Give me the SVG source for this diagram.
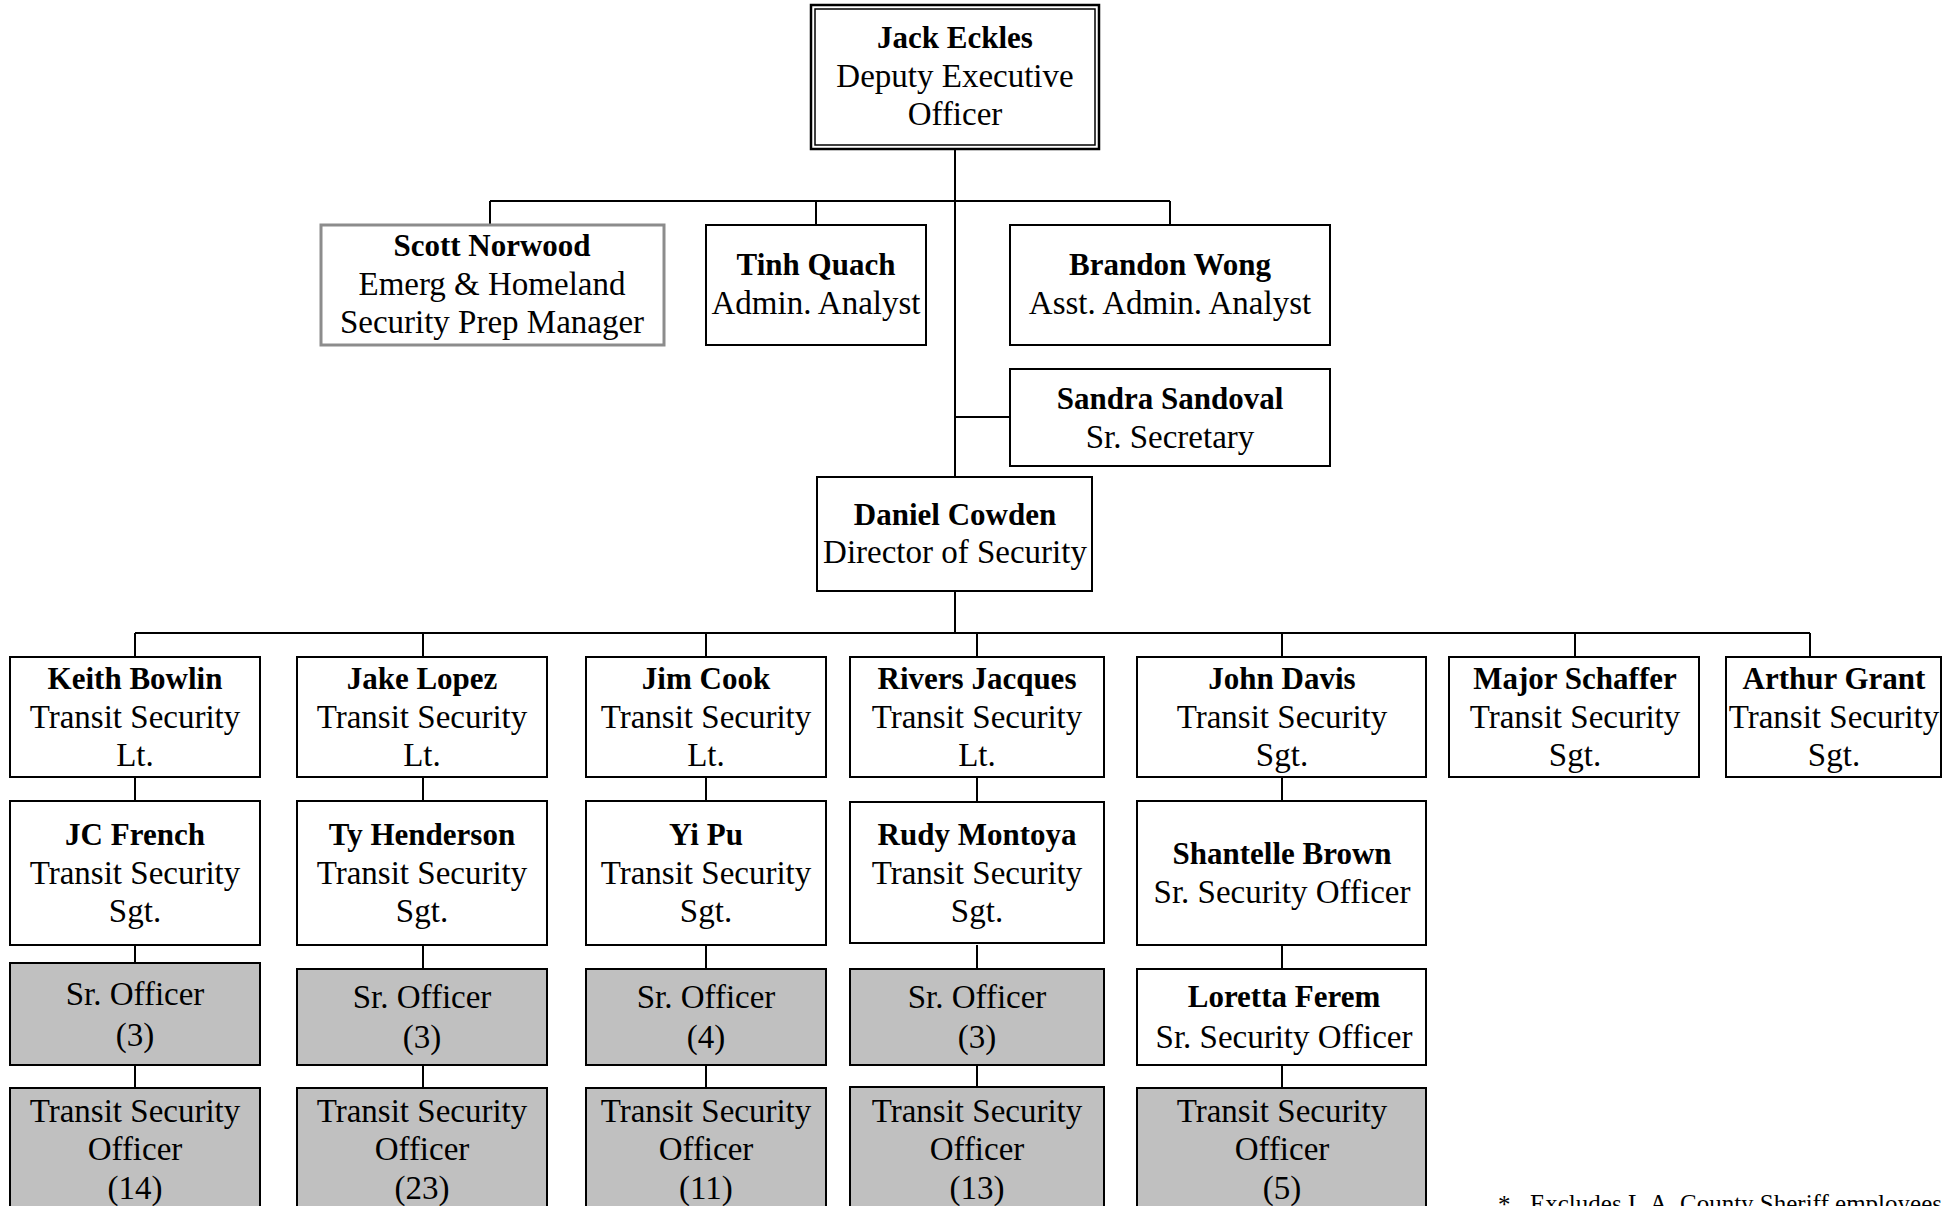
<svg xmlns="http://www.w3.org/2000/svg" width="1960" height="1206" viewBox="0 0 1960 1206">
<style>
.box{fill:#fff;stroke:#000;stroke-width:2}
.gray{fill:#c0c0c0;stroke:#000;stroke-width:2}
.ln{stroke:#000;stroke-width:2;fill:none}
text{font-family:"Liberation Serif","Times New Roman",serif;fill:#000;text-anchor:middle}
.n{font-size:31px;font-weight:bold}
.t{font-size:33px}
.f{font-size:25px;text-anchor:start}
</style>
<rect width="1960" height="1206" fill="#fff"/>
<g id="connectors">
<path class="ln" d="M955 149V477M490 201H1170M490 201V225M816 201V225M1170 201V225M955 417H1010M955 591V633M135 633H1810"/>
<path class="ln" d="M135 633V657M423 633V657M706 633V657M977 633V657M1282 633V657M1575 633V657M1810 633V657"/>
<path class="ln" d="M135 777V801M135 945V963M135 1065V1088"/>
<path class="ln" d="M423 777V801M423 945V969M423 1065V1088"/>
<path class="ln" d="M706 777V801M706 945V969M706 1065V1088"/>
<path class="ln" d="M977 777V801M977 945V969M977 1065V1088"/>
<path class="ln" d="M1282 777V801M1282 945V969M1282 1065V1088"/>
</g>
<g id="jack">
<rect x="811" y="5" width="288" height="144" fill="#fff" stroke="#000" stroke-width="2.5"/>
<rect x="815" y="9" width="280" height="136" fill="none" stroke="#000" stroke-width="1.5"/>
<text x="955" y="48" class="n">Jack Eckles</text>
<text x="955" y="87" class="t">Deputy Executive</text>
<text x="955" y="125" class="t">Officer</text>
</g>
<g id="scott">
<rect x="321" y="225" width="343" height="120" fill="#fff" stroke="#8c8c8c" stroke-width="3"/>
<text x="492" y="256" class="n">Scott Norwood</text>
<text x="492" y="295" class="t">Emerg &amp; Homeland</text>
<text x="492" y="333" class="t">Security Prep Manager</text>
</g>
<g id="tinh">
<rect class="box" x="706" y="225" width="220" height="120"/>
<text x="816" y="275" class="n">Tinh Quach</text>
<text x="816" y="314" class="t">Admin. Analyst</text>
</g>
<g id="brandon">
<rect class="box" x="1010" y="225" width="320" height="120"/>
<text x="1170" y="275" class="n">Brandon Wong</text>
<text x="1170" y="314" class="t">Asst. Admin. Analyst</text>
</g>
<g id="sandra">
<rect class="box" x="1010" y="369" width="320" height="97"/>
<text x="1170" y="409" class="n">Sandra Sandoval</text>
<text x="1170" y="448" class="t">Sr. Secretary</text>
</g>
<g id="daniel">
<rect class="box" x="817" y="477" width="275" height="114"/>
<text x="955" y="525" class="n">Daniel Cowden</text>
<text x="955" y="563" class="t">Director of Security</text>
</g>
<g id="keith">
<rect class="box" x="10" y="657" width="250" height="120"/>
<text x="135" y="689" class="n">Keith Bowlin</text>
<text x="135" y="728" class="t">Transit Security</text>
<text x="135" y="766" class="t">Lt.</text>
</g>
<g id="jake">
<rect class="box" x="297" y="657" width="250" height="120"/>
<text x="422" y="689" class="n">Jake Lopez</text>
<text x="422" y="728" class="t">Transit Security</text>
<text x="422" y="766" class="t">Lt.</text>
</g>
<g id="jim">
<rect class="box" x="586" y="657" width="240" height="120"/>
<text x="706" y="689" class="n">Jim Cook</text>
<text x="706" y="728" class="t">Transit Security</text>
<text x="706" y="766" class="t">Lt.</text>
</g>
<g id="rivers">
<rect class="box" x="850" y="657" width="254" height="120"/>
<text x="977" y="689" class="n">Rivers Jacques</text>
<text x="977" y="728" class="t">Transit Security</text>
<text x="977" y="766" class="t">Lt.</text>
</g>
<g id="john">
<rect class="box" x="1137" y="657" width="289" height="120"/>
<text x="1282" y="689" class="n">John Davis</text>
<text x="1282" y="728" class="t">Transit Security</text>
<text x="1282" y="766" class="t">Sgt.</text>
</g>
<g id="major">
<rect class="box" x="1449" y="657" width="250" height="120"/>
<text x="1575" y="689" class="n">Major Schaffer</text>
<text x="1575" y="728" class="t">Transit Security</text>
<text x="1575" y="766" class="t">Sgt.</text>
</g>
<g id="arthur">
<rect class="box" x="1726" y="657" width="215" height="120"/>
<text x="1834" y="689" class="n">Arthur Grant</text>
<text x="1834" y="728" class="t">Transit Security</text>
<text x="1834" y="766" class="t">Sgt.</text>
</g>
<g id="jc">
<rect class="box" x="10" y="801" width="250" height="144"/>
<text x="135" y="845" class="n">JC French</text>
<text x="135" y="884" class="t">Transit Security</text>
<text x="135" y="922" class="t">Sgt.</text>
</g>
<g id="ty">
<rect class="box" x="297" y="801" width="250" height="144"/>
<text x="422" y="845" class="n">Ty Henderson</text>
<text x="422" y="884" class="t">Transit Security</text>
<text x="422" y="922" class="t">Sgt.</text>
</g>
<g id="yi">
<rect class="box" x="586" y="801" width="240" height="144"/>
<text x="706" y="845" class="n">Yi Pu</text>
<text x="706" y="884" class="t">Transit Security</text>
<text x="706" y="922" class="t">Sgt.</text>
</g>
<g id="rudy">
<rect class="box" x="850" y="802" width="254" height="141"/>
<text x="977" y="845" class="n">Rudy Montoya</text>
<text x="977" y="884" class="t">Transit Security</text>
<text x="977" y="922" class="t">Sgt.</text>
</g>
<g id="shantelle">
<rect class="box" x="1137" y="801" width="289" height="144"/>
<text x="1282" y="864" class="n">Shantelle Brown</text>
<text x="1282" y="903" class="t">Sr. Security Officer</text>
</g>
<g id="sr1">
<rect class="gray" x="10" y="963" width="250" height="102"/>
<text x="135" y="1005" class="t">Sr. Officer</text>
<text x="135" y="1046" class="t">(3)</text>
</g>
<g id="sr2">
<rect class="gray" x="297" y="969" width="250" height="96"/>
<text x="422" y="1008" class="t">Sr. Officer</text>
<text x="422" y="1048" class="t">(3)</text>
</g>
<g id="sr3">
<rect class="gray" x="586" y="969" width="240" height="96"/>
<text x="706" y="1008" class="t">Sr. Officer</text>
<text x="706" y="1048" class="t">(4)</text>
</g>
<g id="sr4">
<rect class="gray" x="850" y="969" width="254" height="96"/>
<text x="977" y="1008" class="t">Sr. Officer</text>
<text x="977" y="1048" class="t">(3)</text>
</g>
<g id="loretta">
<rect class="box" x="1137" y="969" width="289" height="96"/>
<text x="1284" y="1007" class="n">Loretta Ferem</text>
<text x="1284" y="1048" class="t">Sr. Security Officer</text>
</g>
<g id="tso1">
<rect class="gray" x="10" y="1088" width="250" height="140"/>
<text x="135" y="1122" class="t">Transit Security</text>
<text x="135" y="1160" class="t">Officer</text>
<text x="135" y="1199" class="t">(14)</text>
</g>
<g id="tso2">
<rect class="gray" x="297" y="1088" width="250" height="140"/>
<text x="422" y="1122" class="t">Transit Security</text>
<text x="422" y="1160" class="t">Officer</text>
<text x="422" y="1199" class="t">(23)</text>
</g>
<g id="tso3">
<rect class="gray" x="586" y="1088" width="240" height="140"/>
<text x="706" y="1122" class="t">Transit Security</text>
<text x="706" y="1160" class="t">Officer</text>
<text x="706" y="1199" class="t">(11)</text>
</g>
<g id="tso4">
<rect class="gray" x="850" y="1087" width="254" height="140"/>
<text x="977" y="1122" class="t">Transit Security</text>
<text x="977" y="1160" class="t">Officer</text>
<text x="977" y="1199" class="t">(13)</text>
</g>
<g id="tso5">
<rect class="gray" x="1137" y="1088" width="289" height="140"/>
<text x="1282" y="1122" class="t">Transit Security</text>
<text x="1282" y="1160" class="t">Officer</text>
<text x="1282" y="1199" class="t">(5)</text>
</g>
<g id="footnote">
<text x="1498" y="1213" class="f">*</text>
<text x="1530" y="1212" class="f">Excludes L.A. County Sheriff employees</text>
</g>
</svg>
